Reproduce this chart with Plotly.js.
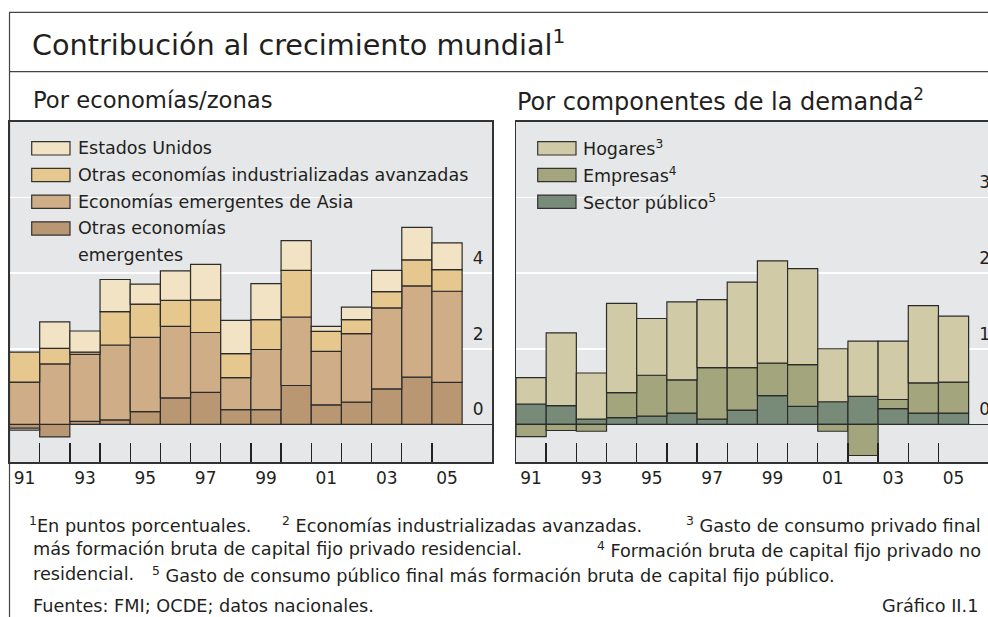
<!DOCTYPE html>
<html>
<head>
<meta charset="utf-8">
<script src="https://cdn.plot.ly/plotly-3.0.1.min.js"></script>
<style>
html,body{margin:0;padding:0;overflow:hidden;background:#fff;width:988px;height:617px}
#wrap{width:988px;height:617px;overflow:hidden;position:relative}
#chart{width:1010px;height:617px}
</style>
</head>
<body>
<div id="wrap"><div id="chart"></div></div>
<script>
// ---------------- data ----------------
const years = [1991,1992,1993,1994,1995,1996,1997,1998,1999,2000,2001,2002,2003,2004,2005];
const yearTickLabels = ['91','93','95','97','99','01','03','05'];

// Por economías/zonas (puntos porcentuales)
const estadosUnidos         = [-0.05,0.70,0.56,0.85,0.53,0.78,0.94,0.88,0.95,0.79,0.13,0.33,0.56,0.86,0.71];
const otrasIndustrializadas = [ 0.79,0.41,0.06,0.88,0.88,0.69,0.86,0.63,0.79,1.23,0.53,0.37,0.43,0.69,0.57];
const emergentesAsia        = [ 1.12,1.60,1.77,1.98,1.96,1.89,1.58,0.85,1.59,1.81,1.41,1.81,2.14,2.41,2.41];
const otrasEmergentes       = [-0.10,-0.33,0.08,0.12,0.34,0.70,0.85,0.39,0.39,1.03,0.52,0.59,0.94,1.25,1.11];

// Por componentes de la demanda
const hogares       = [0.35,0.96,0.61,1.18,0.75,1.03,0.90,1.13,1.35,1.27,0.70,0.73,0.77,1.02,0.87];
const empresas      = [-0.16,-0.08,-0.09,0.33,0.54,0.44,0.68,0.56,0.43,0.55,-0.09,-0.41,0.12,0.40,0.41];
const sectorPublico = [0.27,0.25,0.07,0.09,0.11,0.15,0.07,0.19,0.38,0.24,0.30,0.37,0.21,0.15,0.15];

const leftYTicks = [0,2,4,6];
const leftYLabels = ['0','2','4',''];
const rightYTicks = [0,1,2,3];
const rightYLabels = ['0','1','2','3'];

const leftNames = ['Estados Unidos','Otras economías industrializadas avanzadas','Economías emergentes de Asia','Otras economías\nemergentes'];
const rightNames = ['Hogares<sup>3</sup>','Empresas<sup>4</sup>','Sector público<sup>5</sup>'];

// ---------------- style ----------------
const F = 'DejaVu Sans';
const TXT = '#231f20';
const W = 1010, H = 617;
const px = v => v / W;
const py = v => 1 - v / H;

const cUS = '#f1e3c3', cOI = '#e6c78e', cAsia = '#cfae87', cOE = '#b99773';
const cHog = '#d0cba6', cEmp = '#a3a67d', cSP = '#778b78';
const LINE = '#2b2b2b';

const yDom = [py(462.3), py(121.7)];
const leftDom = [px(9.5), px(492.3)];
const rightDom = [px(516), px(998.8)];
const xRange = [years[0] - 0.5, years[years.length - 1] + 1.5];

const boundaries = years.map(y => y + 0.5).slice(0, -1);          // tick marks between bars
const gridVals = years.filter(y => y % 2 === 0).map(y => y + 0.5); // white grid every two years
const labelYears = years.filter(y => y % 2 === 1);

function xAxis(domain, anchor) {
  return {
    domain, anchor, range: xRange,
    tickmode: 'array', tickvals: labelYears, ticktext: yearTickLabels,
    ticks: '', showgrid: false,
    showline: true, mirror: true, linecolor: '#333', linewidth: 1.5,
    zeroline: false, fixedrange: true,
    tickfont: {family: F, size: 17, color: TXT},
    minor: {tickmode: 'array', tickvals: boundaries, ticks: 'inside', ticklen: 19,
            tickwidth: 1.4, tickcolor: '#222', showgrid: false}
  };
}
function gridAxis(over, anchor) {
  return {
    overlaying: over, anchor, range: xRange,
    tickmode: 'array', tickvals: gridVals, showticklabels: false, ticks: '',
    showgrid: true, gridcolor: '#ffffff', gridwidth: 1.6,
    showline: false, zeroline: false, fixedrange: true
  };
}
function yAxis(anchor, range, tv, tt) {
  return {
    domain: yDom, anchor, side: 'right', range,
    tickmode: 'array', tickvals: tv, ticktext: tt,
    ticks: '', ticklabelposition: 'inside', ticklabelshift: -15, ticklabelstandoff: 9,
    showgrid: true, gridcolor: '#ffffff', gridwidth: 1.6,
    zeroline: true, zerolinecolor: '#333', zerolinewidth: 1.2,
    showline: true, mirror: true, linecolor: '#333', linewidth: 1.5,
    fixedrange: true,
    tickfont: {family: F, size: 17, color: TXT}
  };
}

function bar(y, color, xa, ya, name) {
  return {type: 'bar', x: years, y, name, xaxis: xa, yaxis: ya,
          marker: {color, line: {color: LINE, width: 1.2}},
          hoverinfo: 'skip', showlegend: false};
}

const traces = [
  bar(otrasEmergentes, cOE, 'x', 'y', 'Otras economías emergentes'),
  bar(emergentesAsia, cAsia, 'x', 'y', 'Economías emergentes de Asia'),
  bar(otrasIndustrializadas, cOI, 'x', 'y', 'Otras economías industrializadas avanzadas'),
  bar(estadosUnidos, cUS, 'x', 'y', 'Estados Unidos'),
  bar(sectorPublico, cSP, 'x2', 'y2', 'Sector público'),
  bar(empresas, cEmp, 'x2', 'y2', 'Empresas'),
  bar(hogares, cHog, 'x2', 'y2', 'Hogares')
];

// ---------------- decorations: frame, legends, texts ----------------
const shapes = [
  {type: 'rect', xref: 'paper', yref: 'paper', x0: px(9.5), x1: 1, y0: py(645), y1: py(12.3),
   line: {color: '#444', width: 1.2}, fillcolor: 'rgba(0,0,0,0)', layer: 'below'},
  {type: 'line', xref: 'paper', yref: 'paper', x0: px(9.5), x1: 1, y0: py(71.7), y1: py(71.7),
   line: {color: '#444', width: 1.2}}
];
const annotations = [];
function txt(text, x, y, size, xanchor) {
  annotations.push({text, x: px(x), y: py(y), xref: 'paper', yref: 'paper',
    xanchor: xanchor || 'left', yanchor: 'middle', showarrow: false,
    font: {family: F, size, color: TXT}, borderpad: 0});
}

const rowStep = 26.7;
const leftColors = [cUS, cOI, cAsia, cOE];
leftNames.forEach((n, i) => {
  const top = 141.7 + i * rowStep;
  shapes.push({type: 'rect', xref: 'paper', yref: 'paper', x0: px(31.7), x1: px(70), y0: py(top + 13.3), y1: py(top),
    fillcolor: leftColors[i], line: {color: '#333', width: 1.2}});
  n.split('\n').forEach((line, j) => txt(line, 76.5, top + 6.7 + j * rowStep, 17.5));
});
const rightColors = [cHog, cEmp, cSP];
rightNames.forEach((n, i) => {
  const top = 141.7 + i * rowStep;
  shapes.push({type: 'rect', xref: 'paper', yref: 'paper', x0: px(537.7), x1: px(576), y0: py(top + 13.3), y1: py(top),
    fillcolor: rightColors[i], line: {color: '#333', width: 1.2}});
  txt(n, 582, top + 6.7, 17.5);
});

txt('Por economías/zonas', 32, 100.5, 22.7);
txt('Por componentes de la demanda<sup>2</sup>', 516, 100.5, 24);

const FN = 17.7;
txt('<sup>1</sup>En puntos porcentuales.', 28, 524, FN);
txt('<sup>2</sup> Economías industrializadas avanzadas.', 281, 524, FN);
txt('<sup>3</sup> Gasto de consumo privado final', 982, 524, FN, 'right');
txt('más formación bruta de capital fijo privado residencial.', 32, 549, FN);
txt('<sup>4</sup> Formación bruta de capital fijo privado no', 982, 549, FN, 'right');
txt('residencial.', 32, 574, FN);
txt('<sup>5</sup> Gasto de consumo público final más formación bruta de capital fijo público.', 151, 574, FN);
txt('Fuentes: FMI; OCDE; datos nacionales.', 32, 606, FN);
txt('Gráfico II.1', 979, 606, FN, 'right');

const layout = {
  width: W, height: H,
  margin: {l: 0, r: 0, t: 0, b: 0, pad: 0},
  paper_bgcolor: '#ffffff', plot_bgcolor: '#e6e7e9',
  barmode: 'relative', bargap: 0,
  showlegend: false,
  title: {text: 'Contribución al crecimiento mundial<sup>1</sup>', x: px(32), xref: 'paper', xanchor: 'left',
          y: py(45), yref: 'paper', yanchor: 'middle', font: {family: F, size: 28.7, color: TXT}},
  xaxis: xAxis(leftDom, 'y'),
  yaxis: yAxis('x', [-1, 8], leftYTicks, leftYLabels),
  xaxis2: xAxis(rightDom, 'y2'),
  yaxis2: yAxis('x2', [-0.5, 4], rightYTicks, rightYLabels),
  xaxis3: gridAxis('x', 'y'),
  xaxis4: gridAxis('x2', 'y2'),
  shapes, annotations,
  font: {family: F, color: TXT}
};

Plotly.newPlot('chart', traces, layout, {staticPlot: true, displayModeBar: false});
</script>
</body>
</html>
